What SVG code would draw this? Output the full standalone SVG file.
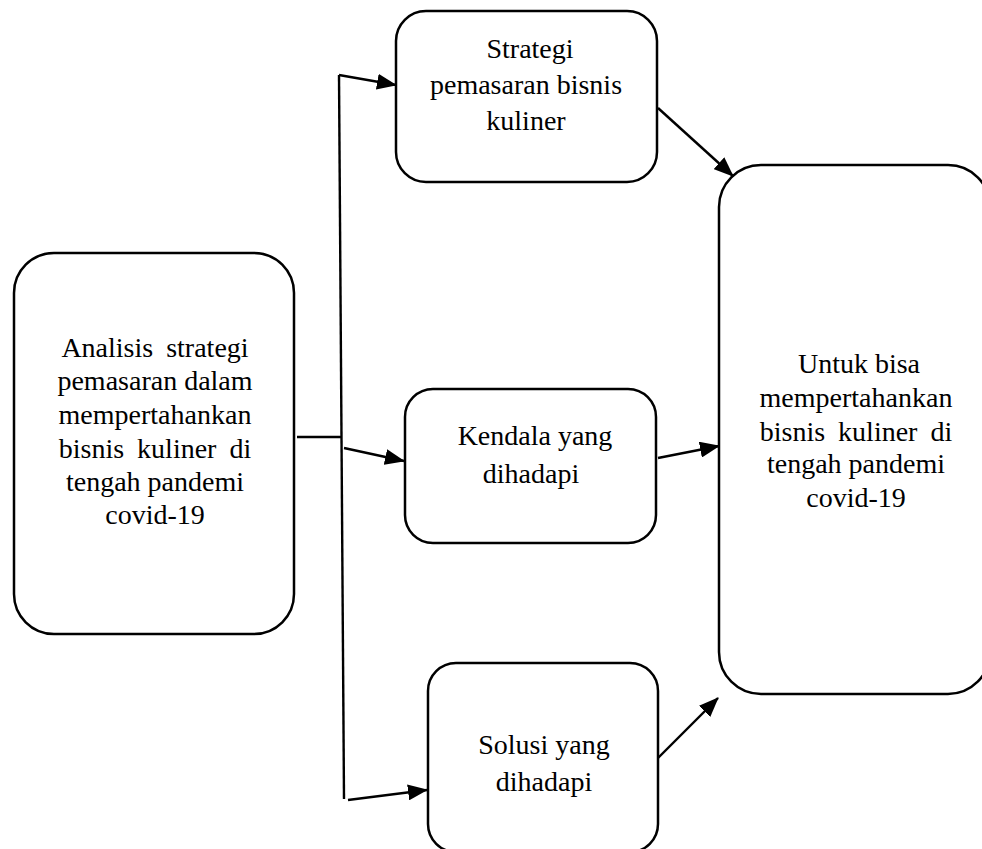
<svg xmlns="http://www.w3.org/2000/svg" width="982" height="849" viewBox="0 0 982 849">
<style>
.box{fill:#fff;stroke:#000;stroke-width:2.5}
.t{font-family:"Liberation Serif","Times New Roman",serif;font-size:28px;fill:#000;text-anchor:middle}
.c{fill:none;stroke:#000;stroke-width:2.4}
</style>
<defs>
<marker id="ah" markerUnits="userSpaceOnUse" markerWidth="20" markerHeight="16" refX="19" refY="8" orient="auto">
<path d="M0,0 L20,8 L0,16 Z" fill="#000"/>
</marker>
</defs>
<rect width="982" height="849" fill="#fff"/>
<g id="n-analisis">
<rect class="box" x="14" y="253" width="280" height="381" rx="40" ry="40"/>
<text class="t" x="155" y="357" word-spacing="6">Analisis strategi</text>
<text class="t" x="155" y="390">pemasaran dalam</text>
<text class="t" x="155" y="424">mempertahankan</text>
<text class="t" x="155" y="458" word-spacing="6">bisnis kuliner di</text>
<text class="t" x="155" y="491">tengah pandemi</text>
<text class="t" x="155" y="524">covid-19</text>
</g>
<g id="n-strategi">
<rect class="box" x="396" y="11" width="261" height="171" rx="30" ry="30"/>
<text class="t" x="530" y="58">Strategi</text>
<text class="t" x="526" y="94">pemasaran bisnis</text>
<text class="t" x="526" y="130">kuliner</text>
</g>
<g id="n-kendala">
<rect class="box" x="405" y="389" width="251" height="154" rx="28" ry="28"/>
<text class="t" x="535" y="445">Kendala yang</text>
<text class="t" x="531" y="483">dihadapi</text>
</g>
<g id="n-solusi">
<rect class="box" x="428" y="663" width="230" height="189" rx="28" ry="28"/>
<text class="t" x="544" y="754">Solusi yang</text>
<text class="t" x="544" y="791">dihadapi</text>
</g>
<g id="n-untuk">
<rect class="box" x="719" y="165" width="271" height="529" rx="42" ry="42"/>
<text class="t" x="859" y="373">Untuk bisa</text>
<text class="t" x="856" y="407">mempertahankan</text>
<text class="t" x="856" y="441" word-spacing="6">bisnis kuliner di</text>
<text class="t" x="856" y="473">tengah pandemi</text>
<text class="t" x="856" y="507">covid-19</text>
</g>
<g id="connectors">
<line class="c" x1="297" y1="437" x2="342" y2="437"/>
<line class="c" x1="339" y1="75" x2="344" y2="799"/>
<line class="c" x1="339" y1="75" x2="396" y2="85" marker-end="url(#ah)"/>
<line class="c" x1="344" y1="448" x2="404" y2="461" marker-end="url(#ah)"/>
<line class="c" x1="348" y1="800" x2="427" y2="790" marker-end="url(#ah)"/>
<line class="c" x1="658" y1="108" x2="733" y2="176" marker-end="url(#ah)"/>
<line class="c" x1="658" y1="458" x2="719" y2="446" marker-end="url(#ah)"/>
<line class="c" x1="658" y1="758" x2="718" y2="698" marker-end="url(#ah)"/>
</g>
</svg>
